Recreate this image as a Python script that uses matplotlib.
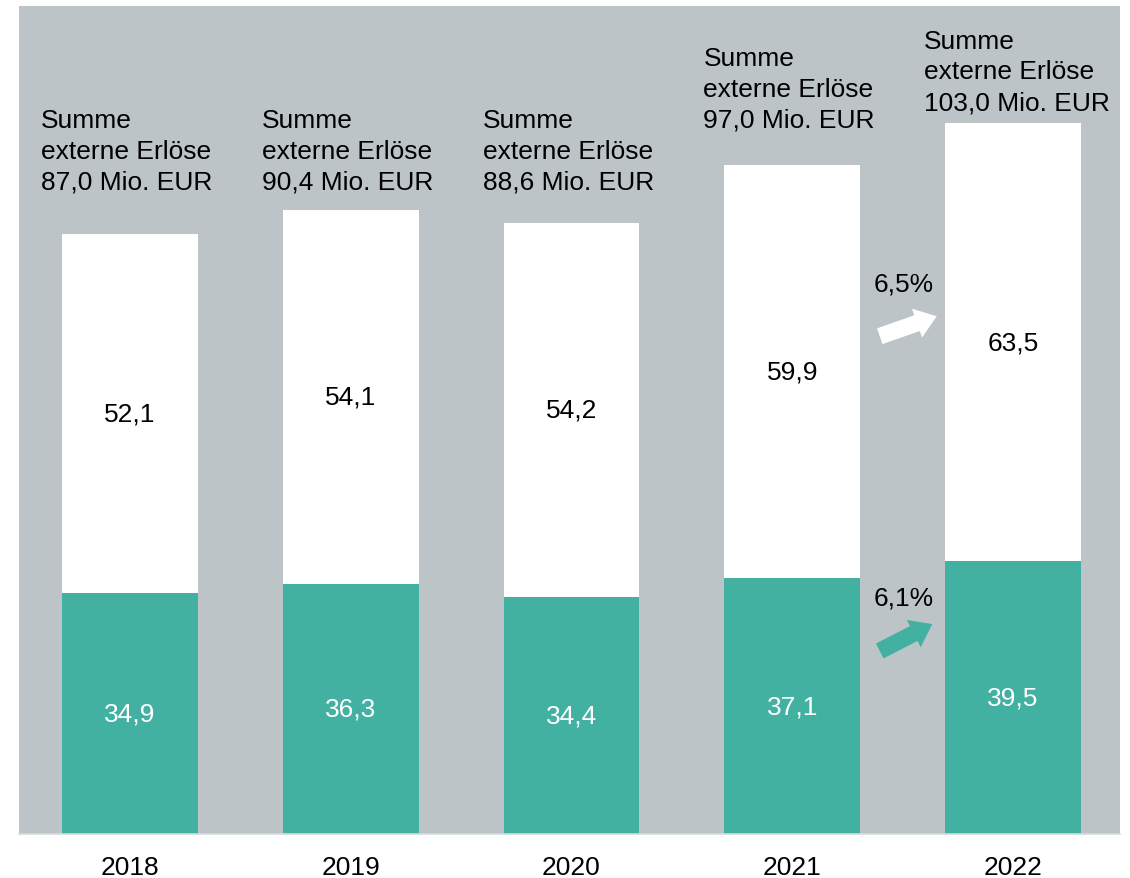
import numpy as np
import matplotlib.pyplot as plt

plt.rcParams['font.family'] = ['Liberation Sans', 'DejaVu Sans']

# Daten (Mio. EUR)
years = ['2018', '2019', '2020', '2021', '2022']
teal_vals = [34.9, 36.3, 34.4, 37.1, 39.5]
white_vals = [52.1, 54.1, 54.2, 59.9, 63.5]
totals = [87.0, 90.4, 88.6, 97.0, 103.0]
growth_white = '6,5%'
growth_teal = '6,1%'

teal = '#43B1A2'
bg = '#BCC4C8'
fs = 19

def de(v):
    return f'{v:.1f}'.replace('.', ',')

fig = plt.figure(figsize=(11.3, 8.79), dpi=100)
ax = fig.add_axes([19 / 1130, 44 / 879, (1120 - 19) / 1130, (835 - 7) / 879])
ax.set_facecolor(bg)

x = np.arange(len(years))
w = 0.615
ax.bar(x, teal_vals, w, color=teal, zorder=2)
ax.bar(x, white_vals, w, bottom=teal_vals, color='white', zorder=2)

for i in range(len(years)):
    ax.text(x[i], teal_vals[i] / 2, de(teal_vals[i]), ha='center', va='center',
            fontsize=fs, color='white', zorder=3)
    ax.text(x[i], teal_vals[i] + white_vals[i] / 2, de(white_vals[i]),
            ha='center', va='center', fontsize=fs, color='black', zorder=3)

# Summenbeschriftung (Höhe in Achsenanteilen, wie im Original manuell gesetzt)
label_y = [0.825, 0.825, 0.825, 0.900, 0.921]
for i in range(len(years)):
    ax.text(x[i] - w / 2 - 0.095, label_y[i],
            f'Summe\nexterne Erlöse\n{de(totals[i])} Mio. EUR',
            transform=ax.get_xaxis_transform(), ha='left', va='center',
            fontsize=fs, linespacing=1.36, zorder=3)

# Wachstumspfeile zwischen 2021 und 2022
arrow_style = 'simple,head_length=0.75,head_width=1.1,tail_width=0.6'
xa, xb = x[3] + 0.396, x[3] + 0.654
ya_w = teal_vals[3] + white_vals[3] * 0.585
ax.annotate('', xy=(xb, ya_w + 2.9), xytext=(xa, ya_w),
            arrowprops=dict(arrowstyle=arrow_style, fc='white', ec='none',
                            shrinkA=0, shrinkB=0, mutation_scale=20), zorder=3)
ax.text((xa + xb) / 2 - 0.02, ya_w + 7.6, growth_white, ha='center', va='center',
        fontsize=fs, zorder=3)
ya_t = teal_vals[3] * 0.715
ax.annotate('', xy=(xb - 0.02, ya_t + 3.9), xytext=(xa, ya_t),
            arrowprops=dict(arrowstyle=arrow_style, fc=teal, ec='none',
                            shrinkA=0, shrinkB=0, mutation_scale=20), zorder=3)
ax.text((xa + xb) / 2 - 0.02, ya_t + 7.7, growth_teal, ha='center', va='center',
        fontsize=fs, zorder=3)

ax.set_xlim(-0.502, 4.484)
ax.set_ylim(0, 120)
ax.set_xticks(x)
ax.set_xticklabels(years, fontsize=fs)
ax.tick_params(axis='x', length=0, pad=15)
ax.set_yticks([])
for s in ['top', 'left', 'right']:
    ax.spines[s].set_visible(False)
ax.spines['bottom'].set_color('#D6DADC')
ax.spines['bottom'].set_linewidth(1.2)

fig.savefig('out.png', dpi=100, facecolor='white')
